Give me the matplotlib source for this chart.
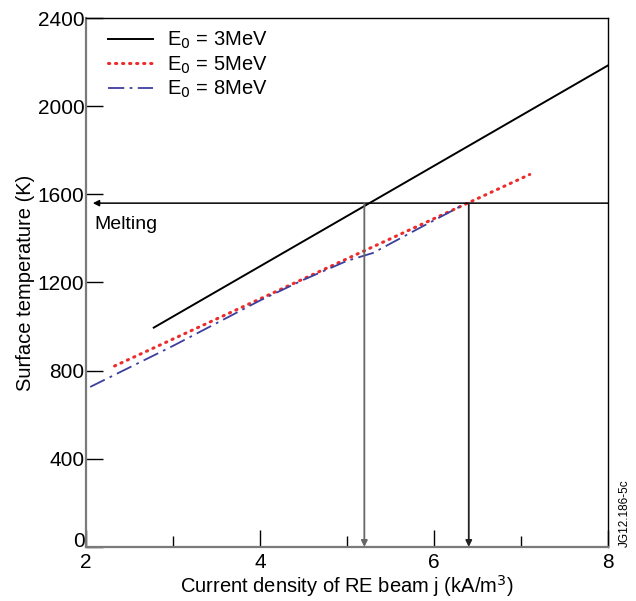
import numpy as np
import matplotlib.pyplot as plt
import matplotlib.transforms as mtransforms

plt.rcParams['font.family'] = ['Liberation Sans', 'DejaVu Sans']

# E0 = 3 MeV
j_3mev = [2.78, 8.0]
t_3mev = [995, 2185]
# E0 = 5 MeV
j_5mev = [2.33, 7.1]
t_5mev = [821, 1690]
# E0 = 8 MeV
j_8mev = [2.05, 3.0, 4.0, 4.5, 5.0, 5.3, 5.8, 6.35]
t_8mev = [726, 912, 1118, 1212, 1298, 1334, 1440, 1555]

t_melt = 1560
j_melt = [5.2, 6.4]

fig = plt.figure(figsize=(6.36, 6.01), dpi=100)
ax = fig.add_axes([0.135, 0.090, 0.821, 0.880])

ax.plot(j_3mev, t_3mev, color='black', lw=1.4, label='E$_0$ = 3MeV')
ax.plot(j_5mev, t_5mev, color='#ee2a2a', lw=2.2, ls=(0, (0.4, 1.9)),
        dash_capstyle='round', label='E$_0$ = 5MeV')
ax.plot(j_8mev, t_8mev, color='#3b3f9e', lw=1.3, ls=(0, (9, 3, 1.5, 3)),
        label='E$_0$ = 8MeV')

# melting line with arrow pointing left
ax.annotate('', xy=(2.08, t_melt), xytext=(8.0, t_melt),
            arrowprops=dict(arrowstyle='-|>', color='black', lw=1.1,
                            mutation_scale=9, shrinkA=0, shrinkB=0))
ax.text(2.1, t_melt - 95, 'Melting', fontsize=14, va='center', ha='left')

# vertical arrows down to the j axis
for jm, col in zip(j_melt, ['#666666', '#222222']):
    ax.annotate('', xy=(jm, 0), xytext=(jm, t_melt),
                arrowprops=dict(arrowstyle='-|>', color=col, lw=1.3,
                                mutation_scale=9, shrinkA=0, shrinkB=0))

ax.set_xlim(2, 8)
ax.set_ylim(0, 2400)
ax.set_xticks([2, 4, 6, 8])
ax.set_xticks([3, 5, 7], minor=True)
ax.set_yticks(np.arange(0, 2401, 400))
ax.tick_params(axis='both', which='major', direction='in', length=12,
               labelsize=15, width=1)
ax.tick_params(axis='x', which='major', pad=4.5)
ax.tick_params(axis='y', which='major', pad=1)
ax.tick_params(axis='x', which='minor', direction='in', length=8, width=1)
ax.tick_params(top=False, right=False)

# the "0" label sits a little above the corner
fig.canvas.draw()
ylab0 = ax.get_yticklabels()[0]
ylab0.set_transform(ylab0.get_transform() +
                    mtransforms.ScaledTranslation(0, 5 / 72, fig.dpi_scale_trans))

for side in ['left', 'bottom']:
    ax.spines[side].set_color('#7a7a7a')
    ax.spines[side].set_linewidth(1.6)
for side in ['top', 'right']:
    ax.spines[side].set_linewidth(1.0)

ax.set_xlabel('Current density of RE beam j (kA/m$^3$)', fontsize=14.5, labelpad=1)
ax.set_ylabel('Surface temperature (K)', fontsize=14.5, labelpad=2)

ax.legend(loc='upper left', frameon=False, fontsize=14.5, handlelength=2.2,
          handletextpad=0.7, labelspacing=0.15, borderaxespad=0.2,
          bbox_to_anchor=(0.02, 1.0))

fig.text(0.982, 0.09, 'JG12.186-5c', rotation=90, fontsize=8.5,
         ha='center', va='bottom')

fig.savefig('out.png', dpi=100)
